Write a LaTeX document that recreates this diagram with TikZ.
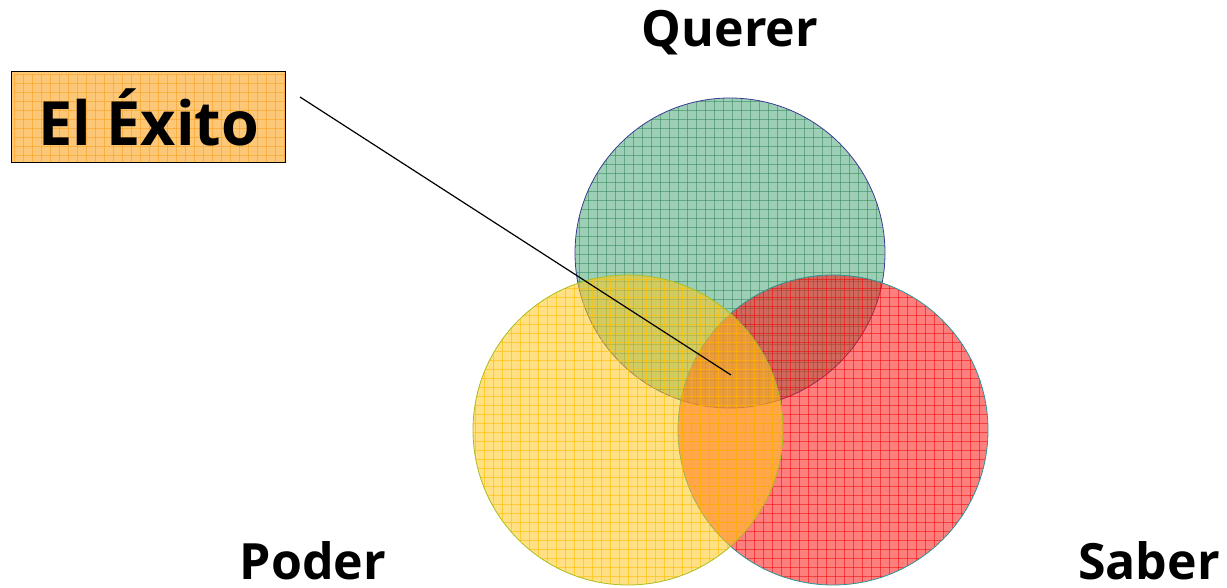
\documentclass[tikz,border=0pt]{standalone}
\usepackage{fontspec}
\setmainfont{Open Sans}
\definecolor{gfill}{RGB}{60,160,110}
\definecolor{ggrid}{RGB}{40,130,80}
\definecolor{gline}{RGB}{60,60,150}
\definecolor{rfill}{RGB}{255,20,20}
\definecolor{rgrid}{RGB}{240,0,0}
\definecolor{rline}{RGB}{40,150,150}
\definecolor{yfill}{RGB}{255,200,30}
\definecolor{ygrid}{RGB}{255,190,0}
\definecolor{yline}{RGB}{170,190,30}
\definecolor{boxfill}{RGB}{252,200,120}
\definecolor{boxgrid}{RGB}{250,160,30}
\newcommand{\gridlines}[4]{% x0 y0 colour opacity ; 324 x 324 square
  \foreach \gd in {0,9,...,324} {
    \draw[color=#3, line width=0.6pt, opacity=#4] ({#1+\gd},#2) -- ({#1+\gd},{#2+324});
    \draw[color=#3, line width=0.6pt, opacity=#4] (#1,{#2+\gd}) -- ({#1+324},{#2+\gd});
  }
}
\begin{document}
\begin{tikzpicture}[x=1pt,y=-1pt,
  lbl/.style={font=\fontsize{50}{54}\selectfont\bfseries, inner sep=0pt},
  boxlbl/.style={fill=boxfill, minimum width=273pt, minimum height=90pt, font=\fontsize{61}{66}\selectfont\bfseries, inner sep=0pt}]
\useasboundingbox (0,0) rectangle (1227,588);
% green
\begin{scope}
  \fill[fill=gfill, fill opacity=0.5] (730,253) circle (155);
  \clip (730,253) circle (155);
  \gridlines{570}{92}{ggrid}{0.5}
\end{scope}
\draw[color=gline, line width=0.8pt] (730,253) circle (155);
% red
\begin{scope}
  \fill[fill=rfill, fill opacity=0.55] (833,430) circle (155);
  \clip (833,430) circle (155);
  \gridlines{673}{270}{rgrid}{0.5}
\end{scope}
\draw[color=rline, line width=0.8pt] (833,430) circle (155);
% yellow
\begin{scope}
  \fill[fill=yfill, fill opacity=0.55] (628,430) circle (155);
  \clip (628,430) circle (155);
  \gridlines{466}{270}{ygrid}{0.6}
\end{scope}
\draw[color=yline, line width=0.8pt] (628,430) circle (155);
% box with grid
\node[boxlbl] (exito) at (148.5,117) {};
\begin{scope}
  \clip (exito.north west) rectangle (exito.south east);
  \gridlines{14}{74}{boxgrid}{0.6}
\end{scope}
\draw[black, line width=0.9pt] (exito.north west) rectangle (exito.south east);
\node[font=\fontsize{61}{66}\selectfont\bfseries, inner sep=0pt] (exitotxt) at (exito) {El Éxito};
% labels
\node[lbl] (querer) at (730,33) {Querer};
\node[lbl, anchor=base] (poder) at (313,579) {Poder};
\node[lbl, anchor=base] (saber) at (1149,579) {Saber};
\coordinate (centro) at (731,375);
\coordinate (inicio) at (300,97);
\draw[black, line width=1.2pt] (inicio) -- (centro);
\end{tikzpicture}
\end{document}
